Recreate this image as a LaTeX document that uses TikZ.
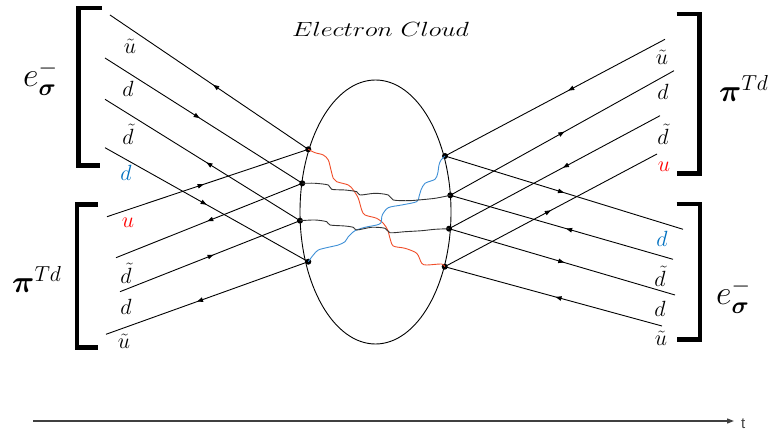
\RequirePackage{fix-cm}
\documentclass[tikz,border=0pt]{standalone}
\usepackage{amsmath}
\usepackage{graphicx}
\usepackage{fontspec}
\newfontfamily\arialf{Liberation Sans}
\usetikzlibrary{arrows.meta,decorations.markings,shapes.geometric}
\definecolor{qred}{HTML}{FF0000}
\definecolor{qblue}{HTML}{0070C0}
\definecolor{gred}{HTML}{F04E2A}
\definecolor{gblue}{HTML}{3D8FD6}
\definecolor{gblack}{HTML}{333333}
\tikzset{
  fline/.style={line width=0.9pt,black},
  fwd/.style={postaction={decorate,decoration={markings,mark=at position #1 with {\arrow{Triangle[length=6pt,width=4.5pt]}}}}},
  bwd/.style={postaction={decorate,decoration={markings,mark=at position #1 with {\arrowreversed{Triangle[length=6pt,width=4.5pt]}}}}},
  dot/.style={circle,fill=black,inner sep=0pt,minimum size=6pt},
  qlab/.style={inner sep=0pt,font=\fontsize{22}{26}\selectfont},
  brk/.style={line width=4.5pt,line join=miter,line cap=butt},
  big/.style={inner sep=0pt,anchor=base west},
  gluon/.style={line width=0.9pt},
}
\begin{document}
\begin{tikzpicture}[x=1pt,y=-1pt]
\useasboundingbox (0,0) rectangle (776,430);
% title
\node[inner sep=0pt,anchor=base west] (title) at (292,36.7)
  {\fontsize{20.5}{24}\selectfont\resizebox{177pt}{\height}{$Electron\ Cloud$}};
% electron cloud
\node[draw,ellipse,line width=0.9pt,minimum width=151pt,minimum height=264pt,inner sep=0pt] (cloud) at (375.5,212) {};
% vertices
\node[dot] (A) at (308.3,149.3) {};
\node[dot] (B) at (302.3,183.3) {};
\node[dot] (C) at (300,220.7) {};
\node[dot] (D) at (308.3,261.7) {};
\node[dot] (E) at (445,156) {};
\node[dot] (F) at (450.3,195.3) {};
\node[dot] (G) at (449,228.7) {};
\node[dot] (H) at (444.7,266.7) {};
% free ends
\coordinate (l1) at (110,15);
\coordinate (l2) at (105,58);
\coordinate (l3) at (105,99.3);
\coordinate (l4) at (105,147.7);
\coordinate (l5) at (107,216.7);
\coordinate (l6) at (116,257.7);
\coordinate (l7) at (120,291.7);
\coordinate (l8) at (106,334.3);
\coordinate (r1) at (665,39.3);
\coordinate (r2) at (674,70.7);
\coordinate (r3) at (660,115.7);
\coordinate (r4) at (657,154);
\coordinate (r5) at (683,229.3);
\coordinate (r6) at (673,259.3);
\coordinate (r7) at (675,295);
\coordinate (r8) at (662,326);
% left fermion lines
\draw[fline,bwd=0.52] (l1) -- (A.center);
\draw[fline,fwd=0.48] (l2) -- (B.center);
\draw[fline,bwd=0.52] (l3) -- (C.center);
\draw[fline,fwd=0.50] (l4) -- (D.center);
\draw[fline,fwd=0.48] (l5) -- (A.center);
\draw[fline,bwd=0.49] (l6) -- (B.center);
\draw[fline,fwd=0.52] (l7) -- (C.center);
\draw[fline,bwd=0.45] (l8) -- (D.center);
% right fermion lines
\draw[fline,bwd=0.56] (E.center) -- (r1);
\draw[fline,fwd=0.51] (F.center) -- (r2);
\draw[fline,bwd=0.54] (G.center) -- (r3);
\draw[fline,fwd=0.50] (H.center) -- (r4);
\draw[fline,fwd=0.50] (E.center) -- (r5);
\draw[fline,bwd=0.52] (F.center) -- (r6);
\draw[fline,fwd=0.51] (G.center) -- (r7);
\draw[fline,bwd=0.51] (H.center) -- (r8);
% gluons
\draw[gluon,gred] plot[smooth,tension=0.5] coordinates {(A.center) (315,152.7) (323.3,155) (328.3,160) (331,170) (333.3,178.3) (336.7,181.7) (348.3,185) (353.3,190) (358.3,198.3) (361.7,210) (365,215) (376.7,218.3) (383.3,223.3) (387.7,230) (390,238.3) (393.3,246) (405,248.3) (416.7,253.3) (421.7,263.3) (426.7,265) (441.7,264) (H.center)};
\draw[gluon,gblue] plot[smooth,tension=0.5] coordinates {(D.center) (313.3,255) (318.3,250) (328.3,247.3) (338.3,245) (345,241.7) (348.3,236.7) (355,230.7) (365,227.3) (376.7,225) (381,222.7) (382.3,215) (388.3,207.7) (401.7,205) (416.7,201.7) (419,196.7) (421,190) (425,183.3) (435,179.3) (437.7,173.3) (439,165) (441,160) (E.center)};
\draw[gluon,gblack] plot[smooth,tension=0.5] coordinates {(B.center) (315,183.3) (328.3,185) (331.7,189.3) (345,190) (356.7,191.7) (360,195) (375,193.3) (388.3,195) (393.3,200) (408.3,200.7) (418.3,200) (435,198.3) (F.center)};
\draw[gluon,gblack] plot[smooth,tension=0.5] coordinates {(C.center) (315,220) (326.7,221.7) (330,225) (345,226) (353.3,227.3) (356.7,230) (371.7,227.3) (385,228.3) (390,232.7) (405,231.7) (421.7,230.7) (435,229.3) (G.center)};
% quark labels
\node[qlab] (q1) at (130,46) {$\tilde{u}$};
\node[qlab] (q2) at (128,88.5) {$d$};
\node[qlab] (q3) at (128,134) {$\tilde{d}$};
\node[qlab,text=qblue] (q4) at (126,173) {$d$};
\node[qlab,text=qred] (q5) at (128,223) {$u$};
\node[qlab] (q6) at (126,273) {$\tilde{d}$};
\node[qlab] (q7) at (126,307) {$d$};
\node[qlab] (q8) at (124,341) {$\tilde{u}$};
\node[qlab] (q9) at (662,57) {$\tilde{u}$};
\node[qlab] (q10) at (663,92) {$d$};
\node[qlab] (q11) at (663,134) {$\tilde{d}$};
\node[qlab,text=qred] (q12) at (664,167) {$u$};
\node[qlab,text=qblue] (q13) at (662,239) {$d$};
\node[qlab] (q14) at (660,276) {$\tilde{d}$};
\node[qlab] (q15) at (660,309) {$d$};
\node[qlab] (q16) at (661,338) {$\tilde{u}$};
% brackets
\draw[brk] (102,8) -- (78.5,8) -- (78.5,165.5) -- (100,165.5);
\draw[brk] (98,204.5) -- (77,204.5) -- (77,347.5) -- (98,347.5);
\draw[brk] (676.7,14) -- (699.5,14) -- (699.5,173.5) -- (676.7,173.5);
\draw[brk] (676.7,204) -- (700,204) -- (700,339.5) -- (676.7,339.5);
% group labels
\node[big] (eL) at (23,87) {\fontsize{34}{40}\selectfont$e^{-}_{\boldsymbol{\sigma}}$};
\node[big] (eR) at (716,305) {\fontsize{34}{40}\selectfont$e^{-}_{\boldsymbol{\sigma}}$};
\node[big] (pL) at (12,293) {\fontsize{31}{36}\selectfont$\boldsymbol{\pi}^{Td}$};
\node[big] (pR) at (719,102) {\fontsize{31}{36}\selectfont$\boldsymbol{\pi}^{Td}$};
% time axis
\coordinate (t0) at (33,421);
\coordinate (t1) at (734,421);
\draw[line width=1.2pt,color=black!75,-{Triangle[length=7pt,width=5pt]}] (t0) -- (t1);
\node[inner sep=0pt,anchor=base west,font=\arialf\fontsize{15}{18}\selectfont,text=black!75] (tl) at (741,428) {t};
\end{tikzpicture}
\end{document}
